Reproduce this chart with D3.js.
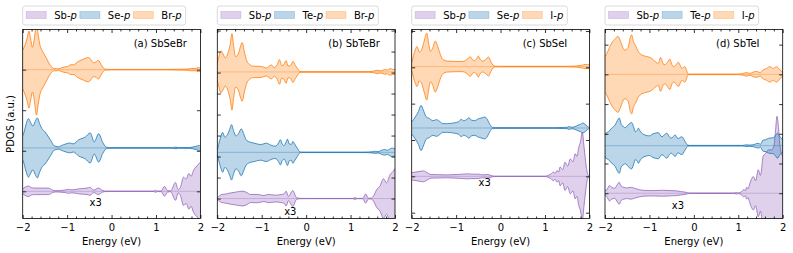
<!DOCTYPE html>
<html>
<head>
<meta charset="utf-8">
<script src="https://cdn.jsdelivr.net/npm/d3@7"></script>
<style>
  body { margin: 0; background: #fff; }
  text { font-family: "DejaVu Sans", sans-serif; font-size: 10px; fill: #000; }
</style>
</head>
<body>
<div id="chart"></div>
<script>
// Energy ticks (eV)
var energyTicks = [-2, -1, 0, 1, 2];

// Panel titles and legend labels [element, p]
var panelTitles = ["(a) SbSeBr", "(b) SbTeBr", "(c) SbSeI", "(d) SbTeI"];
var legendLabels = [
  ["Sb", "Se", "Br"],
  ["Sb", "Te", "Br"],
  ["Sb", "Se", "I"],
  ["Sb", "Te", "I"]
];

// vertical offsets of each curve (a.u.) [Sb, chalcogen, halogen]
var curveOffsets = [
  [0, 1.07, 3.0],
  [0, 2.2, 6.03],
  [0, 1.33, 3.02],
  [0, 1.6, 4.0]
];
// y ranges (a.u.)
var yRanges = [[-0.67, 3.99], [-0.95, 8.05], [-1.16, 4.04], [-0.85, 5.51]];
// where the "x3" note sits (a.u., relative to Sb line)
var noteOffsets = [-0.27, -0.62, -0.18, -0.4];

// ---- PDOS, [energy, half width] ----
// (a) SbSeBr
var sbsebrSb = [[-2,0.06],[-1.95,0.1],[-1.87,0.13],[-1.8,0.09],[-1.72,0.08],[-1.6,0.08],[-1.5,0.08],[-1.42,0.08],[-1.37,0.06],[-1.33,0.03],[-1.25,0.015],[-1.15,0.02],[-1.05,0.03],[-0.97,0.05],[-0.92,0.04],[-0.85,0.04],[-0.75,0.06],[-0.65,0.07],[-0.55,0.08],[-0.49,0.1],[-0.4,0.03],[-0.3,0.08],[-0.2,0.02],[-0.14,0.006],[0,0.005],[0.95,0.005],[0.99,0.025],[1.03,0.005],[1.12,0.01],[1.19,0.12],[1.26,0.02],[1.33,0.01],[1.44,0.22],[1.5,0.04],[1.55,0.1],[1.62,0.35],[1.68,0.3],[1.74,0.44],[1.79,0.37],[1.85,0.53],[1.9,0.6],[1.95,0.66],[2,0.72]];
var sbsebrSe = [[-2,0.3],[-1.98,0.35],[-1.92,0.6],[-1.87,0.72],[-1.82,0.62],[-1.77,0.54],[-1.72,0.65],[-1.67,0.74],[-1.62,0.6],[-1.57,0.48],[-1.5,0.4],[-1.42,0.27],[-1.35,0.15],[-1.31,0.07],[-1.25,0.04],[-1.2,0.03],[-1.08,0.08],[-0.93,0.12],[-0.86,0.1],[-0.74,0.2],[-0.59,0.27],[-0.48,0.37],[-0.39,0.15],[-0.29,0.35],[-0.2,0.14],[-0.12,0.02],[-0.05,0.006],[1.35,0.006],[1.4,0.012],[1.45,0.02],[1.5,0.006],[1.75,0.01],[1.82,0.02],[1.9,0.04],[1.97,0.06],[2,0.05]];
var sbsebrBr = [[-2,0.48],[-1.95,0.6],[-1.9,0.78],[-1.86,0.95],[-1.82,0.75],[-1.78,0.55],[-1.74,0.75],[-1.69,1.12],[-1.65,0.85],[-1.61,0.6],[-1.55,0.45],[-1.5,0.35],[-1.45,0.25],[-1.4,0.14],[-1.35,0.07],[-1.31,0.03],[-1.24,0.03],[-1.19,0.02],[-1.12,0.05],[-1.05,0.07],[-0.98,0.08],[-0.93,0.12],[-0.86,0.12],[-0.75,0.2],[-0.63,0.26],[-0.52,0.3],[-0.46,0.24],[-0.41,0.17],[-0.35,0.19],[-0.3,0.23],[-0.22,0.1],[-0.14,0.01],[0,0.005],[1.2,0.005],[1.5,0.01],[1.7,0.015],[1.8,0.03],[1.88,0.025],[1.95,0.05],[2,0.04]];

// (b) SbTeBr
var sbtebrSb = [[-2,0.05],[-1.9,0.19],[-1.8,0.22],[-1.7,0.27],[-1.6,0.3],[-1.5,0.34],[-1.42,0.35],[-1.33,0.28],[-1.25,0.19],[-1.1,0.2],[-0.95,0.14],[-0.85,0.2],[-0.7,0.16],[-0.6,0.18],[-0.5,0.22],[-0.45,0.35],[-0.4,0.1],[-0.3,0.38],[-0.22,0.05],[-0.15,0.01],[0,0.005],[1.05,0.005],[1.1,0.04],[1.15,0.005],[1.28,0.01],[1.34,0.22],[1.4,0.02],[1.46,0.02],[1.51,0.1],[1.59,0.43],[1.66,0.59],[1.74,0.94],[1.81,0.75],[1.89,1.14],[1.96,1.3],[2,1.43]];
var sbtebrTe = [[-2,0.1],[-1.97,0.37],[-1.92,0.75],[-1.88,0.95],[-1.83,0.72],[-1.77,0.85],[-1.72,1.1],[-1.68,1.32],[-1.63,1.0],[-1.58,0.78],[-1.52,0.9],[-1.46,1.12],[-1.41,0.9],[-1.35,0.6],[-1.28,0.5],[-1.17,0.44],[-1.02,0.37],[-0.9,0.44],[-0.8,0.35],[-0.7,0.29],[-0.62,0.45],[-0.58,0.6],[-0.54,0.4],[-0.5,0.32],[-0.45,0.5],[-0.42,0.63],[-0.38,0.4],[-0.33,0.38],[-0.3,0.52],[-0.26,0.4],[-0.2,0.2],[-0.15,0.04],[-0.1,0.01],[1.3,0.01],[1.5,0.03],[1.56,0.05],[1.62,0.03],[1.7,0.1],[1.77,0.13],[1.83,0.1],[1.9,0.18],[1.95,0.2],[2,0.16]];
var sbtebrBr = [[-2,0.4],[-1.96,0.75],[-1.92,1.0],[-1.87,0.85],[-1.82,0.67],[-1.76,0.9],[-1.71,1.3],[-1.67,1.82],[-1.63,1.2],[-1.59,0.72],[-1.53,0.85],[-1.48,1.2],[-1.44,1.4],[-1.39,0.95],[-1.33,0.5],[-1.27,0.35],[-1.19,0.27],[-1.04,0.27],[-0.95,0.22],[-0.89,0.19],[-0.83,0.28],[-0.78,0.33],[-0.72,0.2],[-0.65,0.35],[-0.6,0.59],[-0.55,0.3],[-0.5,0.35],[-0.45,0.54],[-0.41,0.28],[-0.35,0.3],[-0.3,0.5],[-0.24,0.3],[-0.19,0.15],[-0.14,0.02],[0,0.01],[1.3,0.01],[1.5,0.03],[1.6,0.08],[1.68,0.05],[1.77,0.11],[1.83,0.09],[1.89,0.16],[1.95,0.12],[2,0.11]];

// (c) SbSeI
var sbseiSb = [[-2,0.1],[-1.9,0.12],[-1.8,0.14],[-1.74,0.15],[-1.65,0.1],[-1.57,0.05],[-1.4,0.045],[-1.2,0.04],[-1.0,0.05],[-0.85,0.06],[-0.75,0.07],[-0.65,0.06],[-0.5,0.06],[-0.4,0.04],[-0.3,0.05],[-0.2,0.02],[-0.15,0.005],[0,0.004],[1.0,0.004],[1.08,0.03],[1.13,0.06],[1.19,0.12],[1.23,0.08],[1.27,0.16],[1.31,0.12],[1.34,0.26],[1.4,0.18],[1.45,0.39],[1.51,0.28],[1.57,0.48],[1.63,0.4],[1.68,0.62],[1.72,0.55],[1.76,0.8],[1.8,0.95],[1.84,1.21],[1.88,0.8],[1.93,0.26],[1.97,0.03],[2,0.01]];
var sbseiSe = [[-2,0.17],[-1.92,0.3],[-1.85,0.45],[-1.79,0.62],[-1.74,0.5],[-1.68,0.32],[-1.6,0.26],[-1.52,0.2],[-1.44,0.23],[-1.37,0.18],[-1.3,0.12],[-1.2,0.12],[-1.05,0.14],[-0.95,0.17],[-0.88,0.24],[-0.84,0.2],[-0.78,0.22],[-0.71,0.28],[-0.66,0.22],[-0.58,0.2],[-0.52,0.24],[-0.42,0.28],[-0.35,0.3],[-0.3,0.24],[-0.25,0.12],[-0.2,0.03],[-0.15,0.01],[1.2,0.008],[1.44,0.015],[1.5,0.02],[1.55,0.04],[1.6,0.02],[1.68,0.04],[1.75,0.08],[1.8,0.1],[1.85,0.14],[1.9,0.1],[1.96,0.04],[2,0.01]];
var sbseiI = [[-2,0.1],[-1.96,0.3],[-1.92,0.46],[-1.88,0.55],[-1.83,0.4],[-1.78,0.45],[-1.72,0.7],[-1.66,0.92],[-1.62,0.65],[-1.58,0.42],[-1.53,0.5],[-1.47,0.7],[-1.42,0.58],[-1.36,0.35],[-1.3,0.2],[-1.2,0.15],[-1.0,0.14],[-0.86,0.14],[-0.78,0.17],[-0.72,0.24],[-0.68,0.27],[-0.64,0.2],[-0.59,0.16],[-0.54,0.21],[-0.5,0.29],[-0.45,0.18],[-0.4,0.15],[-0.34,0.19],[-0.27,0.26],[-0.22,0.14],[-0.17,0.04],[-0.12,0.01],[0,0.008],[1.5,0.008],[1.7,0.015],[1.79,0.03],[1.85,0.04],[1.9,0.06],[1.95,0.05],[2,0.05]];

// (d) SbTeI
var sbteiSb = [[-2,0.08],[-1.96,0.11],[-1.9,0.26],[-1.85,0.2],[-1.78,0.17],[-1.72,0.3],[-1.68,0.37],[-1.64,0.25],[-1.58,0.2],[-1.5,0.18],[-1.42,0.2],[-1.3,0.15],[-1.15,0.1],[-1.0,0.09],[-0.9,0.09],[-0.7,0.1],[-0.55,0.09],[-0.4,0.08],[-0.3,0.06],[-0.17,0.03],[-0.12,0.01],[0,0.008],[0.9,0.008],[0.96,0.025],[1.0,0.01],[1.08,0.06],[1.13,0.13],[1.16,0.08],[1.19,0.2],[1.22,0.15],[1.25,0.28],[1.29,0.45],[1.34,0.56],[1.39,0.42],[1.45,0.79],[1.5,0.6],[1.56,1.24],[1.62,1.35],[1.68,1.46],[1.75,1.46],[1.8,1.58],[1.84,2.13],[1.87,2.59],[1.91,2.13],[1.94,1.58],[2,1.24]];
var sbteiTe = [[-2,0.35],[-1.98,0.42],[-1.92,0.47],[-1.85,0.59],[-1.77,0.7],[-1.72,0.85],[-1.68,0.93],[-1.63,0.7],[-1.58,0.64],[-1.55,0.6],[-1.48,0.7],[-1.4,0.78],[-1.35,0.6],[-1.32,0.47],[-1.27,0.52],[-1.25,0.59],[-1.2,0.47],[-1.1,0.36],[-1.0,0.33],[-0.92,0.4],[-0.87,0.42],[-0.8,0.44],[-0.72,0.3],[-0.61,0.42],[-0.55,0.3],[-0.51,0.25],[-0.42,0.36],[-0.36,0.24],[-0.27,0.3],[-0.2,0.15],[-0.14,0.02],[-0.1,0.01],[1.1,0.01],[1.19,0.03],[1.26,0.02],[1.33,0.03],[1.45,0.08],[1.5,0.05],[1.56,0.19],[1.62,0.2],[1.68,0.25],[1.74,0.26],[1.79,0.27],[1.84,0.35],[1.88,0.42],[1.94,0.3],[2,0.2]];
var sbteiI = [[-2,0.6],[-1.96,0.7],[-1.9,0.9],[-1.85,1.05],[-1.77,1.2],[-1.71,1.28],[-1.66,1.15],[-1.61,0.95],[-1.56,0.82],[-1.51,0.85],[-1.47,0.95],[-1.43,1.25],[-1.4,1.33],[-1.36,1.1],[-1.32,0.99],[-1.25,0.77],[-1.17,0.65],[-1.06,0.6],[-0.95,0.54],[-0.87,0.43],[-0.8,0.37],[-0.75,0.57],[-0.7,0.4],[-0.67,0.32],[-0.61,0.37],[-0.54,0.51],[-0.5,0.35],[-0.46,0.26],[-0.4,0.32],[-0.35,0.41],[-0.3,0.28],[-0.27,0.2],[-0.2,0.26],[-0.16,0.12],[-0.14,0.03],[-0.1,0.01],[1.0,0.01],[1.11,0.03],[1.19,0.06],[1.26,0.03],[1.34,0.08],[1.41,0.1],[1.49,0.06],[1.56,0.15],[1.64,0.2],[1.71,0.26],[1.79,0.2],[1.86,0.26],[1.94,0.15],[2,0.06]];

var pdosData = [
  [sbsebrSb, sbsebrSe, sbsebrBr],
  [sbtebrSb, sbtebrTe, sbtebrBr],
  [sbseiSb, sbseiSe, sbseiI],
  [sbteiSb, sbteiTe, sbteiI]
];

// Define chart size and layout
var svgWidth = 793;
var svgHeight = 253;
var margin = { top: 29.5, bottom: 34.5 };
var panelLeft = [22.7, 217.3, 411.7, 605];
var panelWidth = 177.7;
var height = svgHeight - margin.top - margin.bottom;

var curveColors = ["#9467bd", "#1f77b4", "#ff7f0e"];

var svg = d3.select("#chart")
  .append("svg")
  .attr("width", svgWidth)
  .attr("height", svgHeight);

// y label
svg.append("text")
  .attr("transform", `translate(14, ${margin.top + height / 2}) rotate(-90)`)
  .attr("text-anchor", "middle")
  .text("PDOS (a.u.)");

pdosData.forEach(function (curves, p) {
  var left = panelLeft[p];

  var xScale = d3.scaleLinear().domain([-2, 2]).range([0, panelWidth]);
  var yScale = d3.scaleLinear().domain(yRanges[p]).range([height, 0]);

  var chartGroup = svg.append("g")
    .attr("transform", `translate(${left}, ${margin.top})`);

  chartGroup.append("clipPath")
    .attr("id", "clip" + p)
    .append("rect")
    .attr("width", panelWidth)
    .attr("height", height);

  var plotGroup = chartGroup.append("g").attr("clip-path", `url(#clip${p})`);

  curves.forEach(function (pts, i) {
    var base = curveOffsets[p][i];
    var color = curveColors[i];

    var area = d3.area()
      .x(d => xScale(d[0]))
      .y0(d => yScale(base - d[1]))
      .y1(d => yScale(base + d[1]))
      .curve(d3.curveMonotoneX);
    var upper = d3.line()
      .x(d => xScale(d[0]))
      .y(d => yScale(base + d[1]))
      .curve(d3.curveMonotoneX);
    var lower = d3.line()
      .x(d => xScale(d[0]))
      .y(d => yScale(base - d[1]))
      .curve(d3.curveMonotoneX);

    plotGroup.append("path")
      .datum(pts)
      .attr("d", area)
      .attr("fill", color)
      .attr("fill-opacity", 0.3)
      .attr("stroke", "none");

    plotGroup.append("line")
      .attr("x1", 0)
      .attr("x2", panelWidth)
      .attr("y1", yScale(base))
      .attr("y2", yScale(base))
      .attr("stroke", color)
      .attr("stroke-opacity", 0.45)
      .attr("stroke-width", 0.8);

    [upper, lower].forEach(function (gen) {
      plotGroup.append("path")
        .datum(pts)
        .attr("d", gen)
        .attr("fill", "none")
        .attr("stroke", color)
        .attr("stroke-width", 0.8);
    });
  });

  // axes, ticks pointing in
  var minorTicks = d3.range(-2, 2.001, 0.2).filter(v => Math.abs(v - Math.round(v)) > 0.01);
  var yTicks = d3.range(Math.ceil(yRanges[p][0]), Math.floor(yRanges[p][1]) + 1);

  var bottomAxis = chartGroup.append("g")
    .attr("transform", `translate(0, ${height})`)
    .call(d3.axisBottom(xScale).tickValues(energyTicks).tickFormat(d3.format("d"))
      .tickSize(-3.5).tickPadding(5.7));
  chartGroup.append("g")
    .attr("transform", `translate(0, ${height})`)
    .call(d3.axisBottom(xScale).tickValues(minorTicks).tickSize(-2).tickFormat(""));
  chartGroup.append("g")
    .call(d3.axisTop(xScale).tickValues(energyTicks).tickSize(-3.5).tickFormat(""));
  chartGroup.append("g")
    .call(d3.axisTop(xScale).tickValues(minorTicks).tickSize(-2).tickFormat(""));
  chartGroup.append("g")
    .call(d3.axisLeft(yScale).tickValues(yTicks).tickSize(-3.5).tickFormat(""));
  chartGroup.append("g")
    .attr("transform", `translate(${panelWidth}, 0)`)
    .call(d3.axisRight(yScale).tickValues(yTicks).tickSize(-3.5).tickFormat(""));

  chartGroup.selectAll(".domain").remove();
  chartGroup.selectAll(".tick line").attr("stroke", "#000").attr("stroke-width", 0.8);
  bottomAxis.selectAll("text")
    .attr("font-family", "DejaVu Sans, sans-serif")
    .attr("font-size", 10)
    .attr("fill", "#000");

  chartGroup.append("rect")
    .attr("width", panelWidth)
    .attr("height", height)
    .attr("fill", "none")
    .attr("stroke", "#000")
    .attr("stroke-width", 0.8);

  // panel title and x3 note
  chartGroup.append("text")
    .attr("x", 111)
    .attr("y", 17.3)
    .text(panelTitles[p]);

  chartGroup.append("text")
    .attr("x", 73)
    .attr("y", yScale(noteOffsets[p]))
    .attr("dy", "0.35em")
    .attr("text-anchor", "middle")
    .attr("fill", "#333")
    .text("x3");

  chartGroup.append("text")
    .attr("x", panelWidth / 2)
    .attr("y", height + 26)
    .attr("text-anchor", "middle")
    .text("Energy (eV)");

  // legend above the panel
  var legendGroup = svg.append("g")
    .attr("transform", `translate(${left}, 6)`);
  var legendBox = legendGroup.append("rect")
    .attr("height", 19)
    .attr("rx", 2.5)
    .attr("fill", "#fff")
    .attr("stroke", "#d0d0d0")
    .attr("stroke-width", 0.8);

  var cursor = 3.5;
  legendLabels[p].forEach(function (el, i) {
    legendGroup.append("rect")
      .attr("x", cursor)
      .attr("y", 5.5)
      .attr("width", 20)
      .attr("height", 7)
      .attr("fill", curveColors[i])
      .attr("fill-opacity", 0.3)
      .attr("stroke", curveColors[i])
      .attr("stroke-opacity", 0.3)
      .attr("stroke-width", 0.8);
    var label = legendGroup.append("text")
      .attr("x", cursor + 28)
      .attr("y", 13);
    label.append("tspan").text(el + "-");
    label.append("tspan").attr("font-style", "italic").text("p");
    cursor = cursor + 28 + label.node().getComputedTextLength() + 3;
  });
  legendBox.attr("width", cursor + 1);
});
</script>
</body>
</html>
